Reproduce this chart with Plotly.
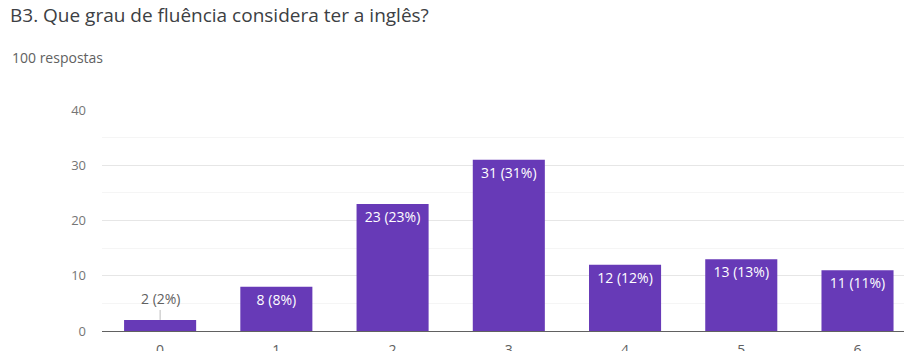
import plotly.graph_objects as go

# Survey responses per fluency level
categories = ["0", "1", "2", "3", "4", "5", "6"]
counts = [2, 8, 23, 31, 12, 13, 11]
percents = [2, 8, 23, 31, 12, 13, 11]
y_ticks = [0, 10, 20, 30, 40]

title_text = "B3. Que grau de fluência considera ter a inglês?"
subtitle_text = "100 respostas"

labels = [f"{c} ({p}%)" for c, p in zip(counts, percents)]
# Short bars get their label above the bar with a leader line
inside_threshold = 5
bar_text = [lab if c >= inside_threshold else "" for lab, c in zip(labels, counts)]

PURPLE = "#673ab7"
FONT = "Open Sans, Roboto, Arial, sans-serif"

W, H = 905, 351
M_L, M_R, M_T, M_B = 102, 1, 110, 20
PLOT_W = W - M_L - M_R
PLOT_H = H - M_T - M_B

fig = go.Figure()
fig.add_trace(go.Bar(
    x=categories,
    y=counts,
    marker=dict(color=PURPLE, line=dict(width=0)),
    width=0.62,
    text=bar_text,
    textposition="inside",
    insidetextanchor="end",
    textangle=0,
    textfont=dict(family=FONT, size=14, color="white"),
    cliponaxis=False,
))

annotations = []
for cat, c, lab in zip(categories, counts, labels):
    if c < inside_threshold:
        annotations.append(dict(
            x=cat, y=c, text=lab,
            showarrow=True, arrowhead=0, arrowwidth=1, arrowcolor="#bdbdbd",
            ax=0, ay=-21,
            font=dict(family=FONT, size=14, color="#616161"),
        ))

# Subtitle placed in pixel terms above the plot area
annotations.append(dict(
    xref="paper", yref="paper",
    x=(10 - M_L) / PLOT_W, y=(H - M_B - 58) / PLOT_H,
    xanchor="left", yanchor="middle",
    text=subtitle_text, showarrow=False,
    font=dict(family=FONT, size=14, color="#616161"),
))

fig.update_layout(
    width=W, height=H,
    margin=dict(l=M_L, r=M_R, t=M_T, b=M_B),
    plot_bgcolor="white", paper_bgcolor="white",
    showlegend=False,
    title=dict(
        text=title_text, xref="container", yref="container",
        x=10 / W, y=1 - 15 / H, xanchor="left", yanchor="middle",
        font=dict(family=FONT, size=19, color="#3c4043"),
    ),
    annotations=annotations,
)

fig.update_xaxes(
    range=[-0.5, 6.4],
    showgrid=False,
    showline=True, linecolor="#616161", linewidth=1,
    ticks="", ticklabelstandoff=6,
    tickfont=dict(family=FONT, size=14, color="#616161"),
    automargin=False,
    fixedrange=True,
)
fig.update_yaxes(
    range=[0, 40],
    tickvals=y_ticks,
    showgrid=True, gridcolor="#e6e6e6", gridwidth=1,
    minor=dict(dtick=5, showgrid=True, gridcolor="#f5f5f5", gridwidth=1),
    zeroline=False,
    showline=False,
    ticks="", ticklabelstandoff=15,
    tickfont=dict(family=FONT, size=13, color="#757575"),
    automargin=False,
    fixedrange=True,
)

fig.write_html("out.html")
